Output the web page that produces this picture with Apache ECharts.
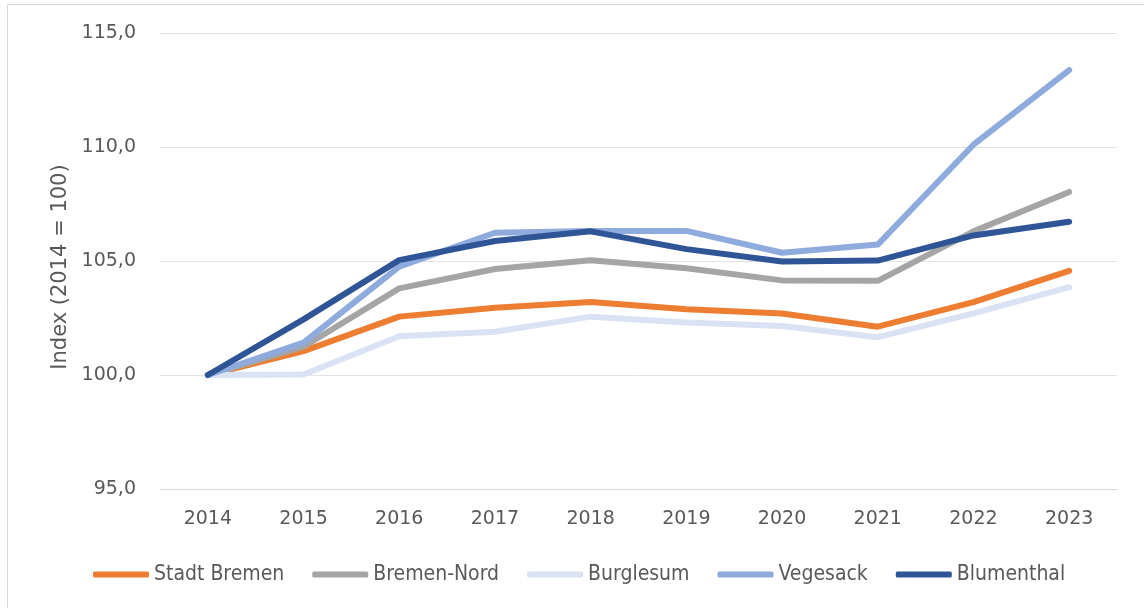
<!DOCTYPE html>
<html>
<head>
<meta charset="utf-8">
<script src="https://cdn.jsdelivr.net/npm/echarts@6/dist/echarts.min.js"></script>
<style>
  html, body { margin: 0; padding: 0; background: #fff; }
  #chart { width: 1144px; height: 608px; }
</style>
</head>
<body>
<div id="chart"></div>
<script>
// Daten (Index 2014 = 100)
const years = ["2014", "2015", "2016", "2017", "2018", "2019", "2020", "2021", "2022", "2023"];
const stadtBremen = [100.0, 101.05, 102.56, 102.95, 103.2, 102.88, 102.7, 102.12, 103.2, 104.57];
const bremenNord = [100.0, 101.24, 103.8, 104.65, 105.03, 104.68, 104.15, 104.13, 106.3, 108.03];
const burglesum = [100.0, 100.02, 101.7, 101.9, 102.56, 102.3, 102.15, 101.66, 102.7, 103.85];
const vegesack = [100.0, 101.42, 104.75, 106.24, 106.32, 106.32, 105.36, 105.72, 110.1, 113.37];
const blumenthal = [100.0, 102.44, 105.04, 105.88, 106.3, 105.52, 104.98, 105.02, 106.12, 106.72];

const seriesNames = ["Stadt Bremen", "Bremen-Nord", "Burglesum", "Vegesack", "Blumenthal"];
const seriesData = [stadtBremen, bremenNord, burglesum, vegesack, blumenthal];
const colors = ["#ED7D31", "#A5A5A5", "#DAE3F3", "#8FAADC", "#2F5597"];

const myChart = echarts.init(document.getElementById("chart"));
const txt = "#595959";
const font = "DejaVu Sans";

myChart.setOption({
  animation: false,
  color: colors,
  // Rahmen des Diagrammbereichs
  graphic: [{
    type: "rect",
    shape: { x: 7.5, y: 4.5, width: 1160, height: 640 },
    style: { fill: "none", stroke: "#d9d9d9", lineWidth: 1 },
    silent: true
  }],
  grid: { left: 160, right: 27, top: 33, bottom: 119 },
  legend: {
    data: seriesNames,
    left: 93,
    top: 564,
    padding: 0,
    icon: "roundRect",
    itemWidth: 56,
    itemHeight: 6,
    itemGap: 28,
    textStyle: { color: txt, fontSize: 21, fontFamily: "DejaVu Sans Condensed" }
  },
  xAxis: {
    type: "category",
    data: years,
    boundaryGap: true,
    axisLine: { lineStyle: { color: "#d9d9d9" } },
    axisTick: { show: false },
    axisLabel: { color: txt, fontSize: 19, fontFamily: font, margin: 21 }
  },
  yAxis: {
    type: "value",
    min: 95,
    max: 115,
    interval: 5,
    name: "Index (2014 = 100)",
    nameLocation: "middle",
    nameGap: 85,
    nameTextStyle: { color: txt, fontSize: 21, fontFamily: font, padding: [0, 12, 0, 0] },
    axisLine: { show: false },
    axisTick: { show: false },
    splitLine: { lineStyle: { color: "#e3e3e3" } },
    axisLabel: {
      color: txt, fontSize: 19, fontFamily: font, margin: 24,
      formatter: v => v.toFixed(1).replace(".", ",")
    }
  },
  series: seriesNames.map((n, i) => ({
    name: n,
    type: "line",
    data: seriesData[i],
    symbol: "none",
    lineStyle: { width: 6, cap: "round", join: "round" }
  }))
});
</script>
</body>
</html>
